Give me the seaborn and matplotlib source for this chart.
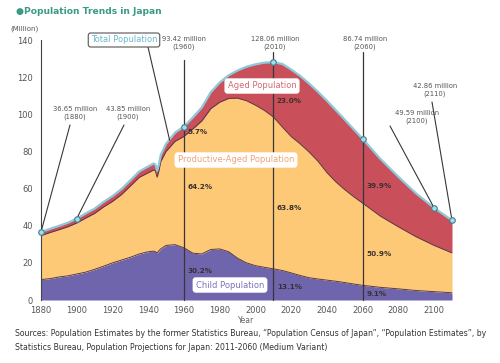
import matplotlib
matplotlib.use('Agg')
import matplotlib.pyplot as plt
import seaborn as sns
import numpy as np

# population of Japan, millions
years = [1880, 1885, 1890, 1895, 1900, 1905, 1910, 1915, 1920, 1925, 1930, 1935, 1940,
         1943, 1944, 1945, 1946, 1947,
         1950, 1955, 1960, 1965, 1970, 1975, 1980, 1985, 1990, 1995, 2000, 2005, 2010,
         2015, 2020, 2025, 2030, 2035, 2040, 2045, 2050, 2055, 2060,
         2070, 2080, 2090, 2100, 2110]
total = [36.65, 38.3, 39.9, 41.6, 43.85, 46.6, 49.2, 52.8, 55.96, 59.7, 64.45, 69.25, 71.9,
         73.5, 73.0, 69.5, 73.1, 78.1,
         84.1, 90.1, 93.42, 98.3, 103.7, 111.9, 117.1, 121.0, 123.6, 125.6, 126.9, 127.8, 128.06,
         127.1, 124.1, 120.7, 116.6, 112.1, 107.3, 102.2, 97.1, 91.9, 86.74,
         75.9, 66.3, 57.3, 49.59, 42.86]
child = [11.0, 11.5, 12.4, 13.0, 14.0, 15.0, 16.5, 18.2, 20.0, 21.5, 23.0, 24.8, 26.0,
         26.3, 26.0, 25.3, 26.5, 27.5,
         29.4, 29.8, 28.1, 25.2, 24.8, 27.2, 27.5, 26.0, 22.5, 20.0, 18.5, 17.6, 16.8,
         15.9, 14.6, 13.2, 12.0, 11.3, 10.7, 10.1, 9.4, 8.6, 7.9,
         6.8, 6.0, 5.1, 4.5, 3.9]
aged = [2.0, 2.0, 2.1, 2.2, 2.4, 2.5, 2.6, 2.7, 2.9, 3.0, 3.1, 3.2, 3.4,
        3.5, 3.5, 3.4, 3.5, 3.6,
        4.1, 4.7, 5.35, 6.2, 7.3, 8.9, 10.6, 12.5, 14.9, 18.3, 22.0, 25.7, 29.5,
        33.9, 36.1, 36.6, 36.9, 37.4, 38.7, 38.6, 37.7, 36.3, 34.6,
        30.8, 26.9, 23.3, 20.2, 17.5]

# labelled totals
mark_years = [1880, 1900, 1960, 2010, 2060, 2100, 2110]
mark_values = [36.65, 43.85, 93.42, 128.06, 86.74, 49.59, 42.86]

# shares at the vertical guide years
share_years = [1960, 2010, 2060]
share_aged = ['5.7%', '23.0%', '39.9%']
share_prod = ['64.2%', '63.8%', '50.9%']
share_child = ['30.2%', '13.1%', '9.1%']

x_ticks = [1880, 1900, 1920, 1940, 1960, 1980, 2000, 2020, 2040, 2060, 2080, 2100]
y_ticks = [0, 20, 40, 60, 80, 100, 120, 140]

sns.set_style('white')
plt.rcParams['font.family'] = ['DejaVu Sans']

W, H = 500, 363
fig = plt.figure(figsize=(W / 100, H / 100), dpi=100)
ax = fig.add_axes([41 / W, 1 - 300 / H, 411 / W, 260 / H])


def px(x, y):
    return (x / W, 1 - y / H)


yrs = np.array(years)
tot = np.array(total)
ch = np.array(child)
ag = np.array(aged)
prod_top = tot - ag

c_child = '#6f65ad'
c_prod = '#fdc977'
c_aged = '#c94f5a'
edge = '#5a3a42'

ax.fill_between(yrs, 0, ch, color=c_child, lw=0)
ax.fill_between(yrs, ch, prod_top, color=c_prod, lw=0)
ax.fill_between(yrs, prod_top, tot, color=c_aged, lw=0)
sns.lineplot(x=years, y=child, ax=ax, color=edge, lw=0.7)
sns.lineplot(x=years, y=list(prod_top), ax=ax, color=edge, lw=0.7)
sns.lineplot(x=years, y=total, ax=ax, color='#8ec8da', lw=1.6)

ax.set_xlim(1880, 2110)
ax.set_ylim(0, 140)
ax.set_xticks(x_ticks)
ax.set_yticks(y_ticks)
ax.tick_params(axis='y', direction='in', length=8, width=0.8, color='#444',
               labelsize=6, labelcolor='#555', pad=6)
ax.tick_params(axis='x', direction='in', length=3, width=0.6, color='#444',
               labelsize=6, labelcolor='#555', pad=4)
for s in ['top', 'right', 'bottom']:
    ax.spines[s].set_visible(False)
ax.spines['left'].set_color('#444')
ax.spines['left'].set_linewidth(0.8)
ax.set_xlabel('Year', fontsize=5.5, color='#666', labelpad=1)
ax.set_ylabel('')

# vertical guides
guide_top = {1960: 129.0, 2010: 133.5, 2060: 133.5}
for yr in share_years:
    ax.plot([yr, yr], [0, guide_top[yr]], color='#3b3538', lw=0.9, clip_on=False, zorder=4)

# leader lines to the labelled points
leaders = {1880: (70, 125), 1900: (124, 125), 2100: (390, 126), 2110: (432, 102)}
for yr, val in zip(mark_years, mark_values):
    if yr in leaders:
        ax.annotate('', xy=(yr, val), xycoords='data',
                    xytext=px(*leaders[yr]), textcoords='figure fraction',
                    arrowprops=dict(arrowstyle='-', color='#3b3538', lw=0.8,
                                    shrinkA=0, shrinkB=0), annotation_clip=False)

ax.scatter(mark_years, mark_values, s=16, facecolor='#a9dbe6', edgecolor='#3b7f92',
           lw=0.8, zorder=6, clip_on=False)

# labels of totals
label_pos = {1880: (75, 113), 1900: (128, 113), 1960: (184, 43), 2010: (275, 43),
             2060: (365, 43), 2100: (417, 117), 2110: (435, 90)}
for yr, val in zip(mark_years, mark_values):
    fig.text(*px(*label_pos[yr]), f'{val:.2f} million\n({yr})', ha='center', va='center',
             fontsize=4.9, color='#555', linespacing=1.2)

# percentage labels: relative position inside each band
frac_aged = {1960: 0.45, 2010: 0.3, 2060: 0.27}
frac_prod = {1960: 0.545, 2010: 0.4, 2060: 0.38}
frac_child = {1960: 0.55, 2010: 0.42, 2060: 0.4}
pct_style = dict(fontsize=5.2, color='#3a3030', va='center', fontweight='bold')
for yr, a, p, c in zip(share_years, share_aged, share_prod, share_child):
    i = years.index(yr)
    ax.text(yr + 2, prod_top[i] + (tot[i] - prod_top[i]) * frac_aged[yr], a, **pct_style)
    ax.text(yr + 2, ch[i] + (prod_top[i] - ch[i]) * frac_prod[yr], p, **pct_style)
    ax.text(yr + 2, ch[i] * frac_child[yr], c, **pct_style)

# series name boxes
ax.annotate('', xy=(1952, 86), xycoords='data', xytext=px(148, 47),
            textcoords='figure fraction',
            arrowprops=dict(arrowstyle='-', color='#3b3538', lw=0.8, shrinkA=0, shrinkB=0),
            annotation_clip=False)
fig.text(*px(124, 40), 'Total Population', ha='center', va='center', fontsize=6,
         color='#6ab8d2',
         bbox=dict(boxstyle='round,pad=0.3', fc='white', ec='#555', lw=0.8))
fig.text(*px(262, 86), 'Aged Population', ha='center', va='center', fontsize=6,
         color='#d06a72', bbox=dict(boxstyle='round,pad=0.3', fc='white', ec='white'))
fig.text(*px(236, 160), 'Productive-Aged Population', ha='center', va='center',
         fontsize=6, color='#f0a27a',
         bbox=dict(boxstyle='round,pad=0.3', fc='white', ec='white'))
fig.text(*px(230, 285), 'Child Population', ha='center', va='center', fontsize=6,
         color='#7d73ba', bbox=dict(boxstyle='round,pad=0.3', fc='white', ec='white'))

# title and notes
fig.text(*px(16, 12), '\u25cfPopulation Trends in Japan', ha='left', va='center',
         fontsize=6.6, fontweight='bold', color='#3a9a88')
fig.text(*px(10, 29), '(Million)', ha='left', va='center', fontsize=5, color='#555')
fig.text(*px(15, 334), 'Sources: Population Estimates by the former Statistics Bureau, '
         '\u201cPopulation Census of Japan\u201d, \u201cPopulation Estimates\u201d, by',
         ha='left', va='center', fontsize=5.55, color='#333')
fig.text(*px(15, 348), 'Statistics Bureau, Population Projections for Japan: 2011-2060 '
         '(Medium Variant)', ha='left', va='center', fontsize=5.55, color='#333')

fig.savefig('out.png', dpi=100)
